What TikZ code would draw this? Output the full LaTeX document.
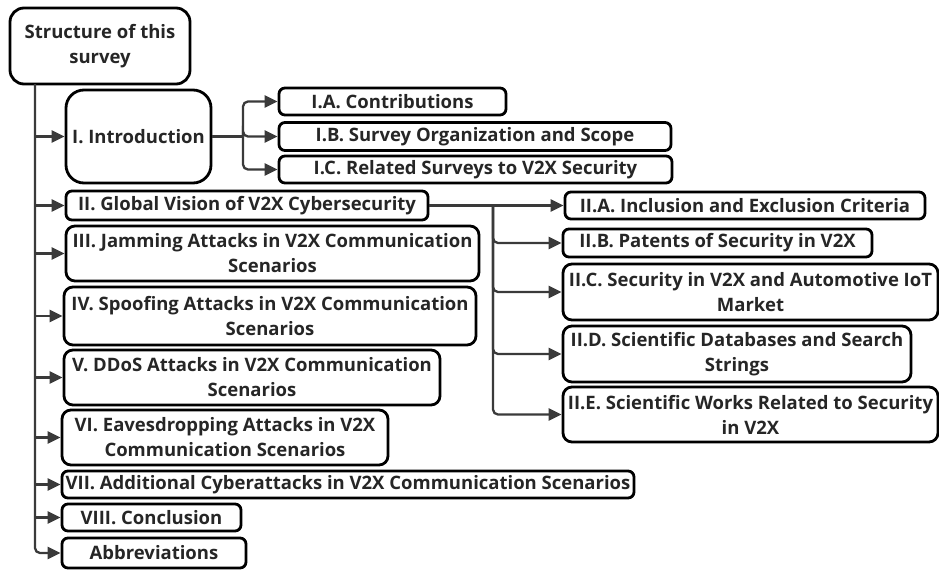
\documentclass[tikz,border=0pt]{standalone}
\usepackage{fontspec}
\setmainfont{Open Sans}
\usetikzlibrary{arrows.meta}
\definecolor{edgegray}{HTML}{3A3A3A}
\definecolor{inkgray}{HTML}{262626}
\begin{document}
\begin{tikzpicture}[x=1pt, y=-1pt,
    secbox/.style={draw=black, line width=2.8pt, fill=white, rounded corners=6pt,
        align=center, inner sep=0pt, text=inkgray,
        font=\fontsize{18.5}{25}\selectfont\bfseries},
    link/.style={draw=edgegray, line width=2.3pt},
    arr/.style={link, -{Triangle[length=13pt, width=12pt]}, rounded corners=5pt}]
\useasboundingbox (0,0) rectangle (939,576);

\node[secbox, rounded corners=14pt, minimum width=180pt, minimum height=76pt] (root) at (100,46) {Structure of this\\survey};

\node[secbox, rounded corners=18pt, minimum width=145pt, minimum height=93pt] (intro) at (138.5,136.5) {I. Introduction};
\node[secbox, minimum width=227pt, minimum height=27pt] (ia) at (392.5,101.5) {I.A. Contributions};
\node[secbox, minimum width=392pt, minimum height=28pt] (ib) at (475,136.5) {I.B. Survey Organization and Scope};
\node[secbox, minimum width=393pt, minimum height=27pt] (ic) at (475.5,169.5) {I.C. Related Surveys to V2X Security};

\node[secbox, minimum width=362pt, minimum height=29pt] (two) at (247,205.5) {II. Global Vision of V2X Cybersecurity};
\node[secbox, rounded corners=9pt, minimum width=413pt, minimum height=55pt] (three) at (272.5,253.5) {III. Jamming Attacks in V2X Communication\\Scenarios};
\node[secbox, rounded corners=9pt, minimum width=412pt, minimum height=58pt] (four) at (270,316) {IV. Spoofing Attacks in V2X Communication\\Scenarios};
\node[secbox, rounded corners=9pt, minimum width=376pt, minimum height=55pt] (five) at (252,377.5) {V. DDoS Attacks in V2X Communication\\Scenarios};
\node[secbox, rounded corners=9pt, minimum width=326pt, minimum height=55pt] (six) at (225,437.5) {VI. Eavesdropping Attacks in V2X\\Communication Scenarios};
\node[secbox, minimum width=572pt, minimum height=27pt] (seven) at (348,484.5) {VII. Additional Cyberattacks in V2X Communication Scenarios};
\node[secbox, minimum width=179pt, minimum height=27pt] (eight) at (151.5,517.5) {VIII. Conclusion};
\node[secbox, minimum width=184pt, minimum height=30pt] (abbr) at (154,553) {Abbreviations};

\node[secbox, minimum width=360pt, minimum height=27pt] (iia) at (745,205.5) {II.A. Inclusion and Exclusion Criteria};
\node[secbox, minimum width=309pt, minimum height=28pt] (iib) at (717.5,243) {II.B. Patents of Security in V2X};
\node[secbox, rounded corners=9pt, minimum width=375pt, minimum height=56pt] (iic) at (750.5,292) {II.C. Security in V2X and Automotive IoT\\Market};
\node[secbox, rounded corners=9pt, minimum width=348pt, minimum height=56pt] (iid) at (737,354) {II.D. Scientific Databases and Search\\Strings};
\node[secbox, rounded corners=9pt, minimum width=375pt, minimum height=55pt] (iie) at (750.5,414.5) {II.E. Scientific Works Related to Security\\in V2X};

\coordinate (trunk) at (35,84);
\coordinate (ifork) at (243,136.5);
\coordinate (iifork) at (493,205.5);

\draw[arr] (trunk) |- (abbr.west);
\foreach \sec in {intro,two,three,four,five,six,seven,eight}
    \draw[arr] (trunk |- \sec.west) -- (\sec.west);

\draw[link] (intro.east) -- (ifork);
\foreach \sub in {ia,ib,ic}
    \draw[arr] (ifork) |- (\sub.west);

\draw[arr] (two.east) -- (iia.west);
\foreach \sub in {iib,iic,iid,iie}
    \draw[arr] (iifork) |- (\sub.west);
\end{tikzpicture}
\end{document}
